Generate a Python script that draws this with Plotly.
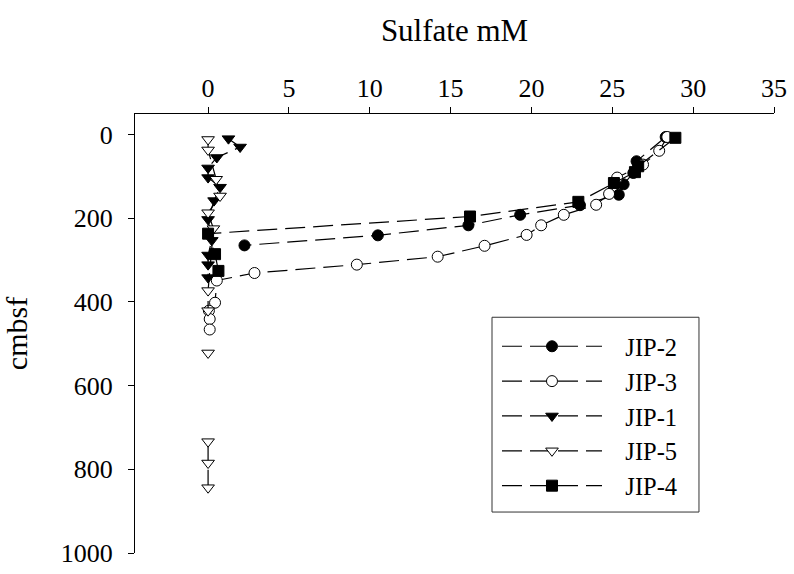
import plotly.graph_objects as go

# Sulfate (mM) versus depth (cmbsf) for five cores
jip2_sulfate = [28.3, 26.5, 26.3, 25.7, 25.4, 23.0, 19.3, 16.1, 10.5, 2.25]
jip2_depth = [6, 64, 92, 119, 144, 169, 192, 217, 241, 265]

jip3_sulfate = [28.4, 27.9, 26.9, 25.3, 24.8, 24.0, 22.0, 20.6, 19.7, 17.1, 14.2, 9.2, 2.87, 0.54, 0.43, 0.05, 0.1, 0.1]
jip3_depth = [6, 39, 72, 103, 142, 168, 192, 217, 240, 266, 292, 311, 331, 349, 402, 421, 441, 466]

jip1_sulfate = [1.26, 1.98, 0.54, 0.0, 0.0, 0.74, 0.37, 0.0, 0.23, 0.0, 0.0, 0.0]
jip1_depth = [10, 30, 55, 80, 103, 126, 158, 203, 253, 288, 311, 342]

jip5_sulfate = [0.0, 0.0, 0.5, 0.74, 0.0, 0.33, 0.0, 0.0, None, 0.0, None, 0.0, 0.0, 0.0]
jip5_depth = [12, 37, 107, 147, 187, 225, 373, 421, None, 522, None, 734, 785, 844]

jip4_sulfate = [28.9, 26.6, 26.4, 25.1, 22.9, 16.2, 0.0, 0.43, 0.64]
jip4_depth = [8, 76, 90, 116, 161, 196, 237, 286, 326]

x_ticks = [0, 5, 10, 15, 20, 25, 30, 35]
y_ticks = [0, 200, 400, 600, 800, 1000]

series = [
    ("JIP-2", jip2_sulfate, jip2_depth, "circle", "black"),
    ("JIP-3", jip3_sulfate, jip3_depth, "circle", "white"),
    ("JIP-1", jip1_sulfate, jip1_depth, "triangle-down", "black"),
    ("JIP-5", jip5_sulfate, jip5_depth, "triangle-down", "white"),
    ("JIP-4", jip4_sulfate, jip4_depth, "square", "black"),
]

font_family = "Liberation Serif, Times New Roman, serif"

fig = go.Figure()
for name, xs, ys, symbol, fill in series:
    fig.add_trace(go.Scatter(
        x=xs, y=ys, name="\u00a0\u00a0\u00a0" + name, mode="lines+markers",
        connectgaps=False,
        line=dict(color="black", width=1.2, dash="20px,8px"),
        marker=dict(symbol=symbol, size=11, color=fill,
                    line=dict(color="black", width=1)),
    ))

# frame around the legend
fig.add_shape(
    type="rect", xref="paper", yref="paper",
    x0=0.5587, x1=0.8826, y0=0.0933, y1=0.537,
    line=dict(color="#333", width=1), fillcolor="rgba(0,0,0,0)",
)

fig.update_layout(
    width=794, height=574,
    margin=dict(l=135, r=20, t=113.5, b=21),
    paper_bgcolor="white", plot_bgcolor="white",
    font=dict(family=font_family, size=26, color="black"),
    showlegend=True,
    legend=dict(
        x=0.5665, y=0.522, xanchor="left", yanchor="top",
        bgcolor="rgba(0,0,0,0)", borderwidth=0,
        font=dict(family=font_family, size=24.5),
        itemwidth=100, tracegroupgap=0,
    ),
    xaxis=dict(
        side="top", range=[-4.52, 35], tickvals=x_ticks,
        showline=True, linecolor="black", linewidth=1,
        ticks="outside", ticklen=6, tickcolor="black",
        showgrid=False, zeroline=False, automargin=False,
        tickfont=dict(size=26), ticklabeloverflow="allow",
        title=dict(text="Sulfate mM", font=dict(size=31), standoff=22),
    ),
    yaxis=dict(
        range=[1000, -48.9], tickvals=y_ticks,
        showline=True, linecolor="black", linewidth=1,
        ticks="outside", ticklen=6, tickcolor="black",
        showgrid=False, zeroline=False, automargin=False,
        tickfont=dict(size=26), ticklabeloverflow="allow",
        ticklabelstandoff=10,
        title=dict(text="cmbsf", font=dict(size=30), standoff=26),
    ),
)

fig.write_html("out.html")
